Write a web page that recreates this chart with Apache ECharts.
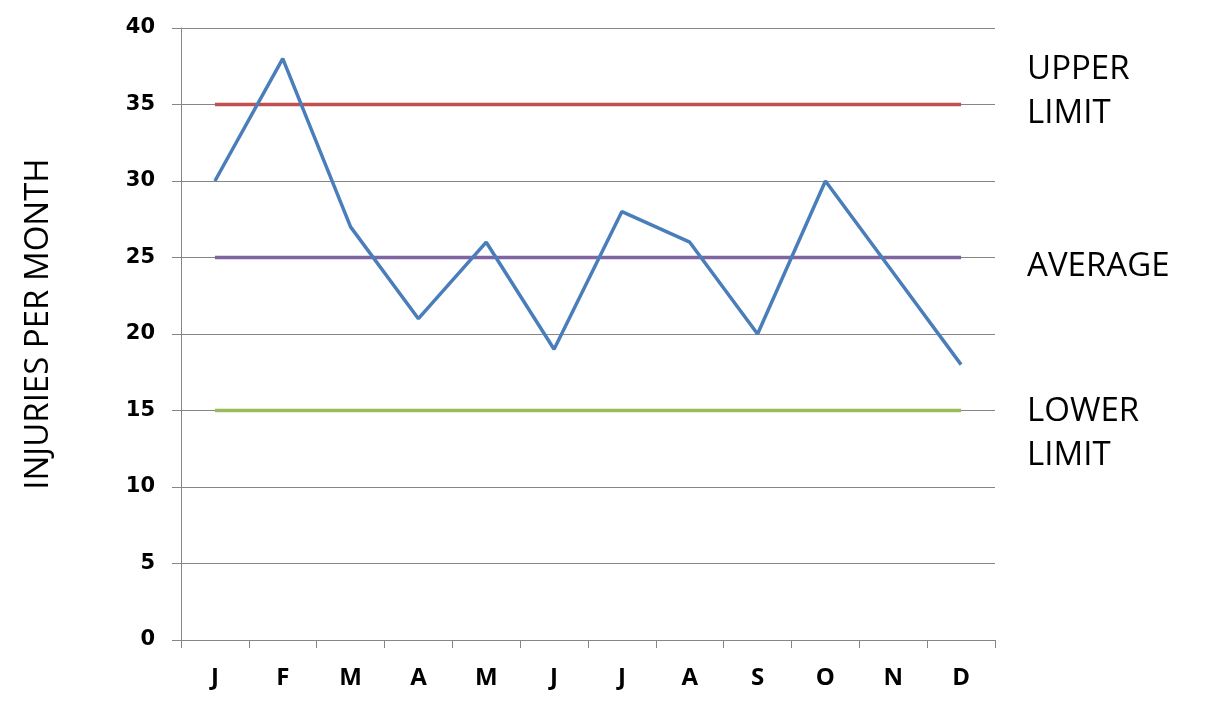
<!DOCTYPE html>
<html><head><meta charset="utf-8">
<script src="https://cdn.jsdelivr.net/npm/echarts@6/dist/echarts.min.js"></script>
<style>html,body{margin:0;padding:0;background:#fff}#c{width:1213px;height:709px}</style>
</head><body><div id="c"></div>
<script>
const months = ['J','F','M','A','M','J','J','A','S','O','N','D'];
const injuries = [30,38,27,21,26,19,28,26,20,30,24,18];
const upperLimit = [35,35,35,35,35,35,35,35,35,35,35,35];
const average = [25,25,25,25,25,25,25,25,25,25,25,25];
const lowerLimit = [15,15,15,15,15,15,15,15,15,15,15,15];
const yTicks = {min:0, max:40, interval:5};

const chart = echarts.init(document.getElementById('c'));
const endLbl = (text, dy) => ({
  show:true, formatter:text, distance:66, offset:[0,dy],
  fontFamily:'Open Sans', fontSize:33, color:'#000', lineHeight:44, align:'left'
});
const flat = (name, data, color, text, dy) => ({
  name, type:'line', data, symbol:'none', silent:true,
  lineStyle:{color, width:3.5}, itemStyle:{color},
  endLabel: endLbl(text, dy), z:2
});
chart.setOption({
  animation:false,
  grid:{left:181, right:218, top:28, bottom:69},
  xAxis:{
    type:'category', data:months, boundaryGap:true,
    axisLine:{lineStyle:{color:'#868686', width:1}},
    axisTick:{show:true, length:8, interval:0, lineStyle:{color:'#868686'}},
    axisLabel:{margin:26, fontFamily:'Open Sans', fontWeight:'bold', fontSize:24, color:'#000', interval:0}
  },
  yAxis:{
    type:'value', min:yTicks.min, max:yTicks.max, interval:yTicks.interval,
    name:'INJURIES PER MONTH', nameLocation:'middle', nameGap:126, nameRotate:90,
    nameTextStyle:{fontFamily:'Open Sans', fontSize:33, color:'#000', padding:[0,0,0,20]},
    axisLine:{show:true, lineStyle:{color:'#868686', width:1}},
    axisTick:{show:true, length:9, lineStyle:{color:'#868686'}},
    splitLine:{lineStyle:{color:'#868686', width:1}},
    axisLabel:{margin:26, fontFamily:'DejaVu Sans', fontWeight:'bold', fontSize:21, color:'#000'}
  },
  series:[
    flat('Upper limit', upperLimit, '#C0504D', 'UPPER\nLIMIT', -13),
    flat('Average', average, '#8064A2', 'AVERAGE', 9),
    flat('Lower limit', lowerLimit, '#9BBB59', 'LOWER\nLIMIT', 23),
    {name:'Injuries', type:'line', data:injuries, symbol:'none',
     lineStyle:{color:'#4A7EBB', width:3.5}, itemStyle:{color:'#4A7EBB'}, z:3}
  ]
});
</script></body></html>
